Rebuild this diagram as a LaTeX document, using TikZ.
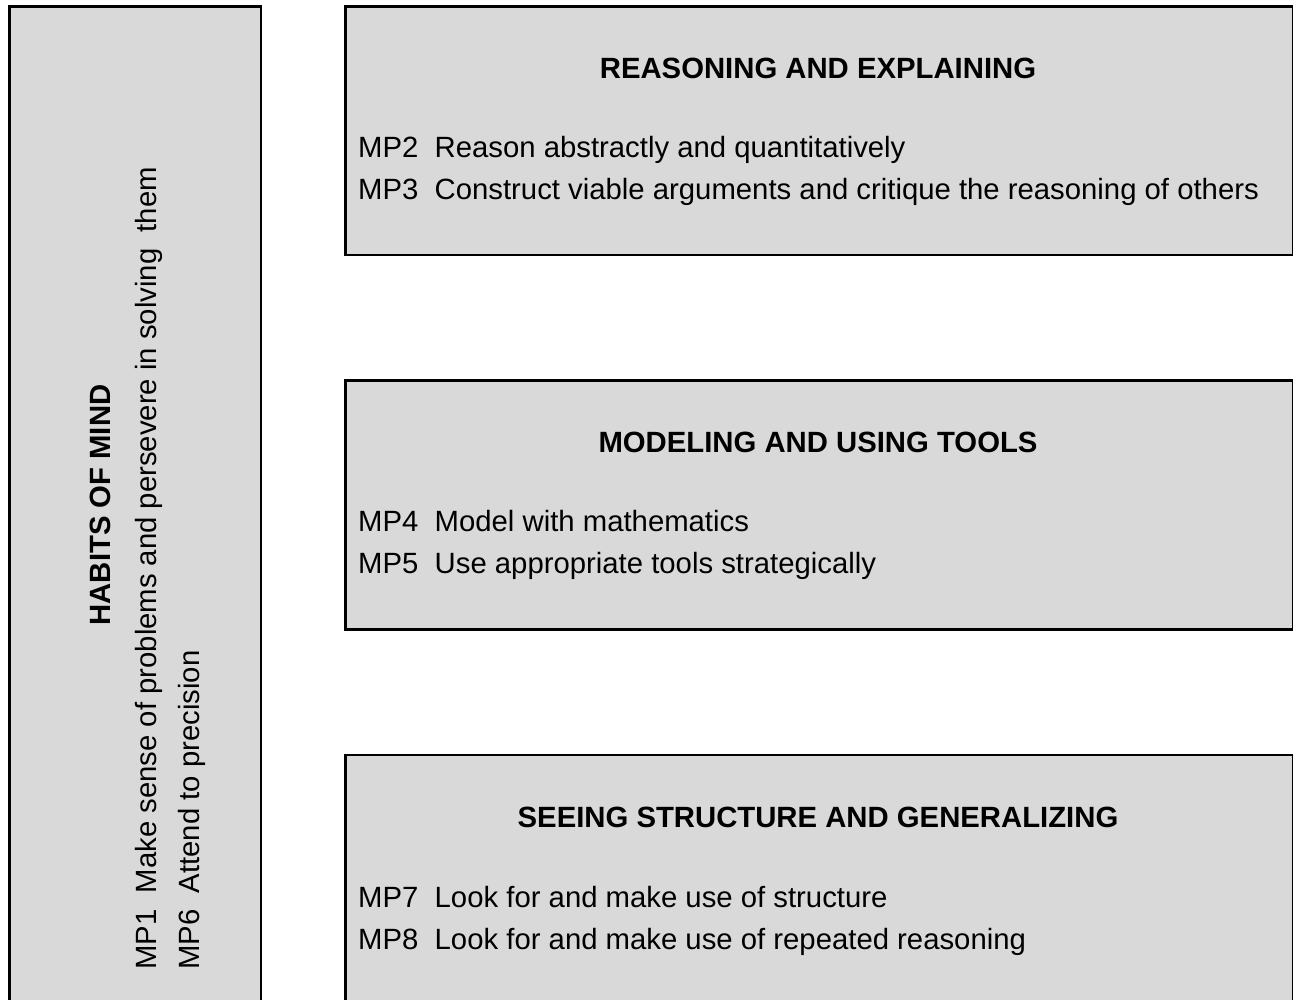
\documentclass[tikz,border=0pt]{standalone}
\usepackage{fontspec}
\setmainfont{Liberation Sans}
\definecolor{boxgray}{HTML}{D9D9D9}
\begin{document}
\begin{tikzpicture}[x=1pt,y=-1pt,
    panel/.style={shape=rectangle,draw=black,fill=boxgray,line width=2.5pt,anchor=north west,inner sep=0pt},
    head/.style={anchor=base,inner sep=0pt,font=\fontsize{29.3}{42}\selectfont\bfseries},
    item/.style={anchor=base west,inner sep=0pt,font=\fontsize{29.3}{42}\selectfont}]
  \useasboundingbox (0,0) rectangle (1293,999);
  \clip (0,0) rectangle (1293,999);

  % left column
  \node[panel,minimum width=251.4pt,minimum height=1010pt] (habits) at (8.3,5.3) {};
  \node[head,rotate=90] (habitsT) at (110.5,505) {HABITS OF MIND};
  \node[item,rotate=90] (mp1) at (156,970) {MP1~~Make sense of problems and persevere in solving~~them};
  \node[item,rotate=90] (mp6) at (199,970) {MP6~~Attend to precision};

  % right column
  \node[panel,minimum width=947.4pt,minimum height=248.4pt] (reason) at (344.3,5.3) {};
  \node[head] (reasonT) at (818,78.5) {REASONING AND EXPLAINING};
  \node[item] (mp2) at (358,157.5) {MP2~~Reason abstractly and quantitatively};
  \node[item] (mp3) at (358,199.5) {MP3~~Construct viable arguments and critique the reasoning of others};

  \node[panel,minimum width=947.4pt,minimum height=249.3pt] (model) at (344.3,379) {};
  \node[head] (modelT) at (818,452.5) {MODELING AND USING TOOLS};
  \node[item] (mp4) at (358,531.5) {MP4~~Model with mathematics};
  \node[item] (mp5) at (358,573.5) {MP5~~Use appropriate tools strategically};

  \node[panel,minimum width=947.4pt,minimum height=249pt] (struct) at (344.3,753.7) {};
  \node[head] (structT) at (818,827.5) {SEEING STRUCTURE AND GENERALIZING};
  \node[item] (mp7) at (358,907.5) {MP7~~Look for and make use of structure};
  \node[item] (mp8) at (358,949.5) {MP8~~Look for and make use of repeated reasoning};
\end{tikzpicture}
\end{document}
